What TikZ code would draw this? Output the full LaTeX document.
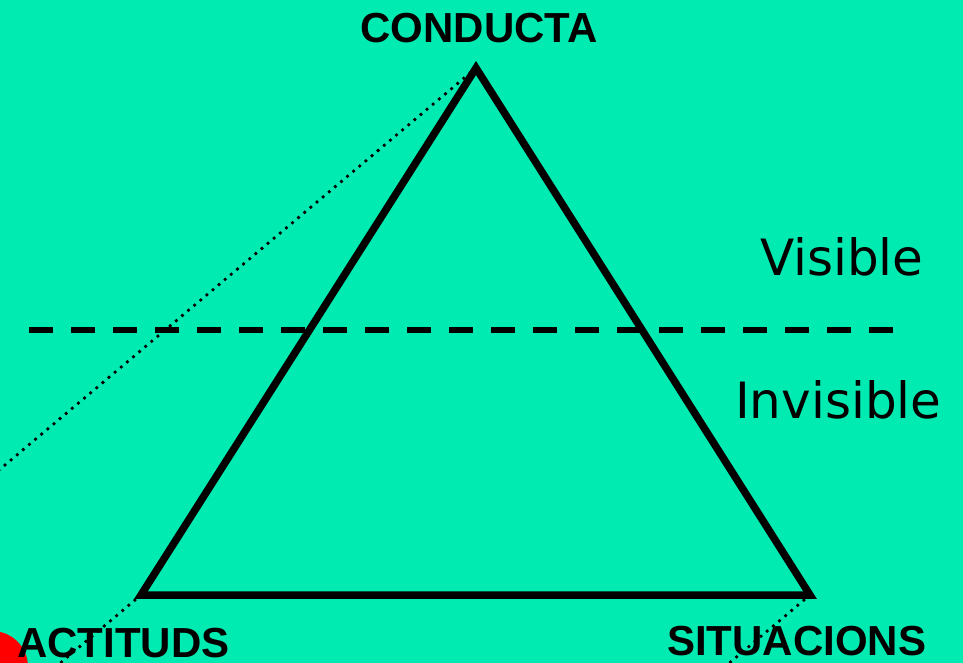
\documentclass[tikz,border=0pt]{standalone}
\usepackage{fontspec}
\setmainfont{Liberation Sans}
\newfontfamily\handfont{DejaVu Sans}
\usetikzlibrary{calc}
\definecolor{mintbg}{RGB}{0,235,178}
\definecolor{blobred}{RGB}{255,0,0}
\tikzset{
  edge/.style={line width=7.5pt, line join=miter},
  recede/.style={line width=3.8pt, line cap=round, dash pattern=on 0pt off 8pt},
  divider/.style={line width=6pt, dash pattern=on 24pt off 18pt},
  corner/.style={font=\bfseries\fontsize{42}{42}\selectfont, inner sep=0pt},
  zone/.style={font=\handfont\fontsize{50}{50}\selectfont, inner sep=0pt, anchor=base west}
}
\newcommand{\recedeline}[2]{% dotted edge going back from corner #1 to free end #2
  \coordinate (#2) at ($(#1)+(-560,472)$);
  \draw[recede] (#1) -- (#2);
}

\begin{document}
\begin{tikzpicture}[x=1pt,y=-1pt]
  \useasboundingbox (0,0) rectangle (963,663);
  \clip (0,0) rectangle (963,663);
  \fill[mintbg] (0,0) rectangle (963,663);
  % red blob cut by the lower left edge
  \fill[blobred] (-8,667) circle (36);

  % triangle corners
  \coordinate (apex) at (476,68);
  \coordinate (left) at (141,595);
  \coordinate (right) at (810,595);

  % receding dotted edges
  \recedeline{apex}{apexback}
  \recedeline{left}{leftback}
  \recedeline{right}{rightback}

  \draw[edge] (apex) -- (left) -- (right) -- cycle;

  % visible / invisible limit
  \coordinate (limitA) at (29,330);
  \coordinate (limitB) at (893,330);
  \draw[divider] (limitA) -- (limitB);

  \node[corner, anchor=base] (conducta) at (479,43) {CONDUCTA};
  \node[corner, anchor=base west] (actituds) at (17,657) {ACTITUDS};
  \node[corner, anchor=base west] (situacions) at (667,655) {SITUACIONS};

  \node[zone] (visible) at (760,275) {Visible};
  \node[zone] (invisible) at (735,418) {Invisible};
\end{tikzpicture}
\end{document}
